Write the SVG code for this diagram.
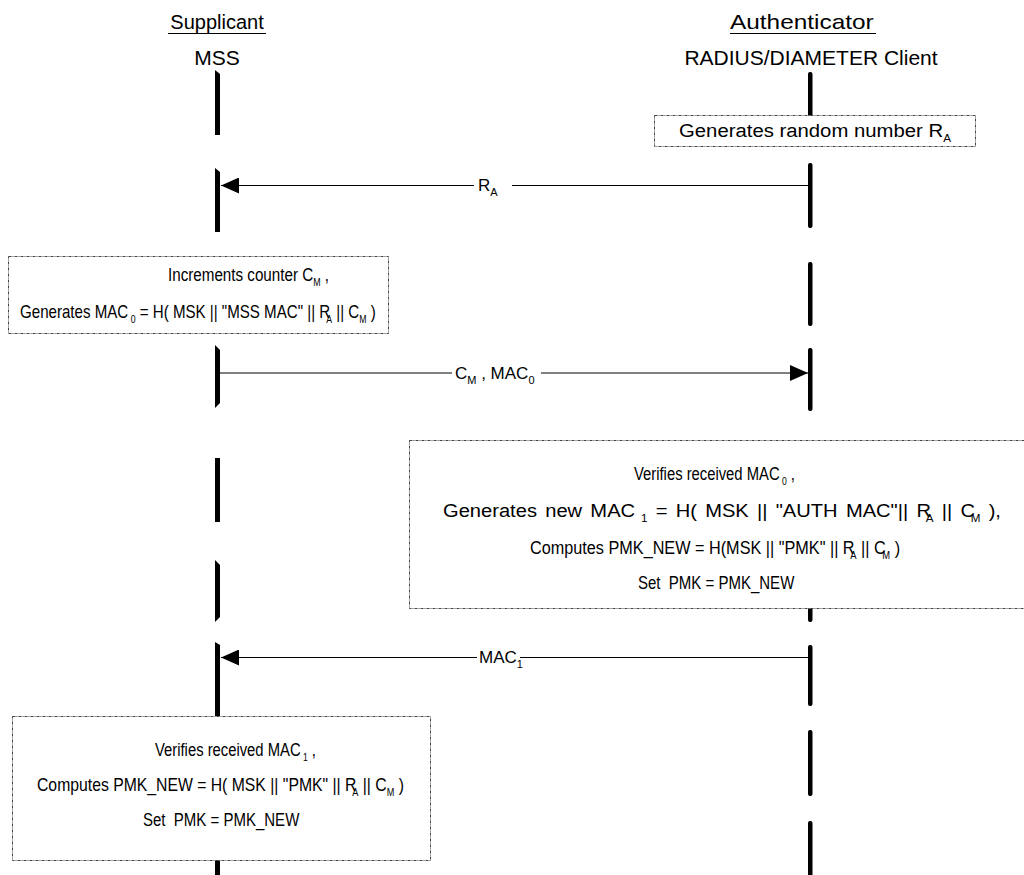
<svg xmlns="http://www.w3.org/2000/svg" width="1024" height="875" viewBox="0 0 1024 875">
<style>
text{font-family:"Liberation Sans",Arial,sans-serif;fill:#000}
.t{font-size:20px}
.h{font-size:21px}
.b{font-size:19px}
.l{font-size:17px}
.sub{font-size:11px}
.box{fill:#fff;stroke:#444;stroke-width:1;stroke-dasharray:3 1 1 1}
.lf{fill:#000}
.msg{stroke:#000;stroke-width:1;fill:none}
</style>
<defs>
<marker id="ah" viewBox="0 0 18 16" refX="18" refY="8" markerWidth="18" markerHeight="16" markerUnits="userSpaceOnUse" orient="auto">
<path d="M0,0 L18,8 L0,16 Z" fill="#000"/>
</marker>
</defs>
<rect width="1024" height="875" fill="#fff"/>

<g id="supplicant">
<text class="t" x="217" y="29" text-anchor="middle">Supplicant</text>
<line x1="168" y1="33.5" x2="266" y2="33.5" stroke="#000" stroke-width="1"/>
<text class="h" x="217" y="65" text-anchor="middle">MSS</text>
<g id="lifeline-supplicant">
<polygon class="lf" points="215,70 220,74 220,135 215,135"/>
<polygon class="lf" points="215,168 220,172 220,232 215,232"/>
<polygon class="lf" points="215,345 220,350 220,403 215,408"/>
<rect class="lf" x="215" y="458" width="5" height="64"/>
<polygon class="lf" points="215,560 220,565 220,617 215,622"/>
<polygon class="lf" points="215,642 220,645 220,716 215,716"/>
<rect class="lf" x="215" y="840" width="5" height="35"/>
</g>
</g>

<g id="authenticator">
<text class="t" transform="translate(730,29) scale(1.22,1)">Authenticator</text>
<line x1="730" y1="33.5" x2="876" y2="33.5" stroke="#000" stroke-width="1"/>
<text class="h" x="811" y="65" text-anchor="middle">RADIUS/DIAMETER Client</text>
<g id="lifeline-authenticator">
<rect class="lf" x="808" y="72" width="4.5" height="63" rx="2"/>
<rect class="lf" x="808" y="163" width="4.5" height="65" rx="2"/>
<rect class="lf" x="808" y="262" width="4.5" height="64" rx="2"/>
<rect class="lf" x="808" y="348" width="4.5" height="63" rx="2"/>
<rect class="lf" x="808" y="560" width="4.5" height="62" rx="2"/>
<rect class="lf" x="808" y="645" width="4.5" height="61" rx="2"/>
<rect class="lf" x="808" y="730" width="4.5" height="66" rx="2"/>
<rect class="lf" x="808" y="821" width="4.5" height="60" rx="2"/>
</g>
</g>

<g id="connectors">
<g id="msg-ra">
<line class="msg" x1="810" y1="185.5" x2="512" y2="185.5"/>
<line class="msg" x1="474" y1="185.5" x2="221" y2="185.5" marker-end="url(#ah)"/>
<text class="l" x="478" y="191">R<tspan class="sub" dy="5">A</tspan></text>
</g>
<g id="msg-cm-mac0">
<line class="msg" x1="220" y1="373" x2="452" y2="373" stroke="#333"/>
<line class="msg" x1="541" y1="373" x2="808" y2="373" stroke="#333" marker-end="url(#ah)"/>
<text class="l" x="455" y="379">C<tspan class="sub" dy="5">M</tspan><tspan dy="-5"> , MAC</tspan><tspan class="sub" dy="5">0</tspan></text>
</g>
<g id="msg-mac1">
<line class="msg" x1="810" y1="657.5" x2="520" y2="657.5"/>
<line class="msg" x1="477" y1="657.5" x2="221" y2="657.5" marker-end="url(#ah)"/>
<text class="l" x="479" y="663">MAC<tspan class="sub" dy="5">1</tspan></text>
</g>
</g>

<g id="box-random">
<rect class="box" x="654.5" y="115.5" width="321" height="31"/>
<text class="b" transform="translate(679,137) scale(1.07,1)">Generates random number R<tspan class="sub" dy="5">A</tspan></text>
</g>

<g id="box-increment">
<rect class="box" x="8.5" y="256.5" width="380" height="77"/>
<text class="b" transform="translate(168,281) scale(0.8,1)">Increments counter C<tspan class="sub" dy="5">M</tspan><tspan dy="-5"> ,</tspan></text>
<text class="b" transform="translate(20,318) scale(0.795,1)">Generates MAC<tspan class="sub" dy="5"> 0</tspan><tspan dy="-5"> = H( MSK || "MSS MAC" || R</tspan><tspan class="sub" dy="5" dx="-5">A</tspan><tspan dy="-5"> || C</tspan><tspan class="sub" dy="5">M</tspan><tspan dy="-5"> )</tspan></text>
</g>

<g id="box-auth-verify">
<rect class="box" x="409.5" y="440.5" width="616" height="168"/>
<text class="b" transform="translate(634,480) scale(0.78,1)">Verifies received MAC<tspan class="sub" dy="5"> 0</tspan><tspan dy="-5"> ,</tspan></text>
<text class="b" transform="translate(443,517) scale(1.06,1)" word-spacing="2.5">Generates new MAC<tspan class="sub" dy="5"> 1</tspan><tspan dy="-5"> = H( MSK || "AUTH MAC"|| R</tspan><tspan class="sub" dy="5" dx="-5">A</tspan><tspan dy="-5"> || C</tspan><tspan class="sub" dy="5" dx="-4">M</tspan><tspan dy="-5"> ),</tspan></text>
<text class="b" transform="translate(530,554) scale(0.855,1)">Computes PMK_NEW = H(MSK || "PMK" || R<tspan class="sub" dy="5" dx="-5">A</tspan><tspan dy="-5"> || C</tspan><tspan class="sub" dy="5" dx="-4">M</tspan><tspan dy="-5"> )</tspan></text>
<text class="b" transform="translate(638,589) scale(0.79,1)" xml:space="preserve">Set  PMK = PMK_NEW</text>
</g>

<g id="box-supp-verify">
<rect class="box" x="12.5" y="716.5" width="418" height="144"/>
<text class="b" transform="translate(155,756) scale(0.78,1)">Verifies received MAC<tspan class="sub" dy="5"> 1</tspan><tspan dy="-5"> ,</tspan></text>
<text class="b" transform="translate(37,791) scale(0.83,1)">Computes PMK_NEW = H( MSK || "PMK" || R<tspan class="sub" dy="5" dx="-5">A</tspan><tspan dy="-5"> || C</tspan><tspan class="sub" dy="5">M</tspan><tspan dy="-5"> )</tspan></text>
<text class="b" transform="translate(143,826) scale(0.79,1)" xml:space="preserve">Set  PMK = PMK_NEW</text>
</g>
</svg>
